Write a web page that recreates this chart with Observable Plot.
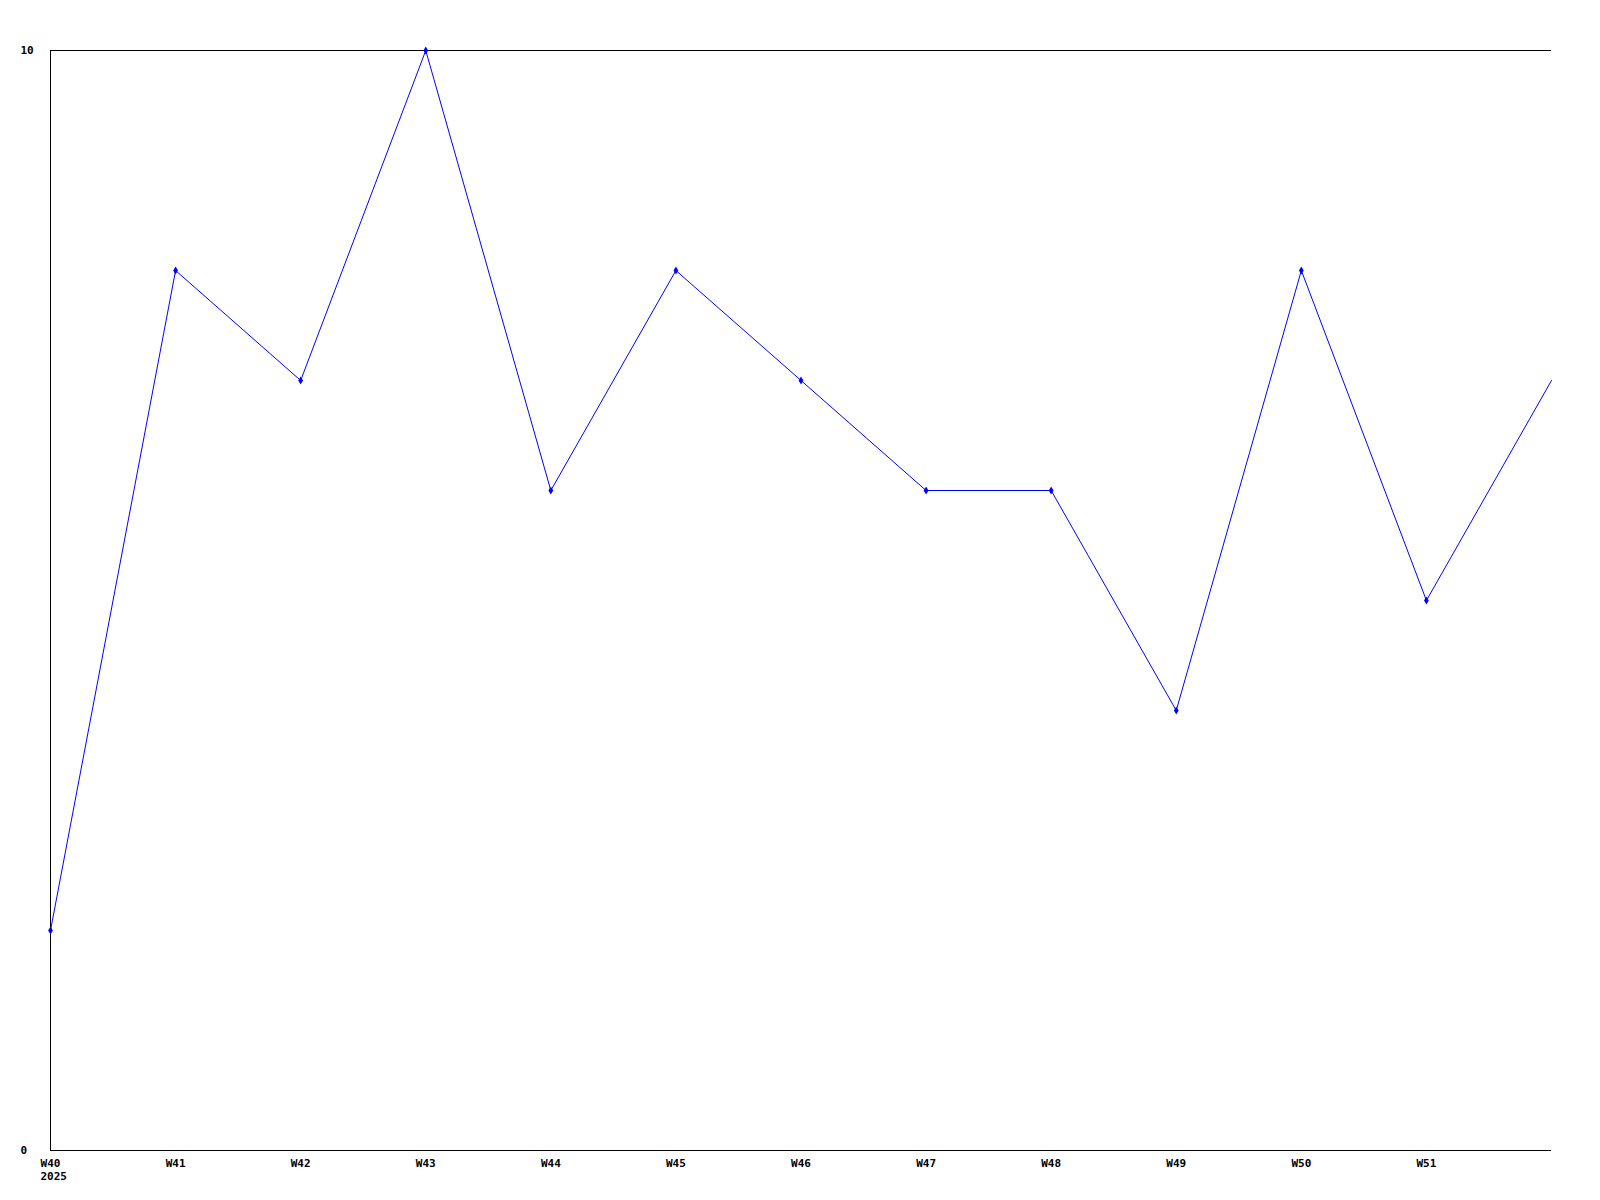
<!DOCTYPE html>
<html>
<head>
<meta charset="utf-8">
<script src="https://cdn.jsdelivr.net/npm/d3@7"></script>
<script src="https://cdn.jsdelivr.net/npm/@observablehq/plot@0.6"></script>
<style>
  html, body { margin: 0; padding: 0; background: #fff; }
  #chart svg { display: block; }
</style>
</head>
<body>
<div id="chart"></div>
<script>
const weeks = ["W40", "W41", "W42", "W43", "W44", "W45", "W46", "W47", "W48", "W49", "W50", "W51", "W52"];
const values = [2, 8, 7, 10, 6, 8, 7, 6, 6, 4, 8, 5, 7];
const tickLabels = ["W40", "W41", "W42", "W43", "W44", "W45", "W46", "W47", "W48", "W49", "W50", "W51"];
const yearLabel = "2025";
const yTicks = [0, 10];

const data = weeks.map((w, i) => ({i, week: w, value: values[i]}));
const markerData = data.slice(0, tickLabels.length);
const font = "bold 11px 'DejaVu Sans Mono', monospace";

const chart = Plot.plot({
  width: 1600,
  height: 1200,
  marginLeft: 50,
  marginRight: 49,
  marginTop: 50,
  marginBottom: 50,
  style: {font, background: "#fff", color: "#000"},
  x: {type: "linear", domain: [0, weeks.length - 1]},
  y: {domain: [0, 10]},
  marks: [
    Plot.axisX({
      ticks: d3.range(tickLabels.length),
      tickFormat: i => tickLabels[i],
      tickSize: 0,
      tickPadding: 9,
      label: null,
      fontWeight: "bold",
      fill: "#000"
    }),
    Plot.text([{i: 0, label: yearLabel}], {
      x: "i", text: "label", frameAnchor: "bottom",
      textAnchor: "start", dx: -10, dy: 29, fontWeight: "bold", fill: "#000"
    }),
    Plot.axisY({
      ticks: yTicks,
      tickSize: 0,
      tickPadding: 0,
      label: null,
      textAnchor: "start",
      dx: -30,
      fontWeight: "bold",
      fill: "#000"
    }),
    Plot.ruleY([0, 10], {stroke: "#000", strokeWidth: 1, shapeRendering: "crispEdges"}),
    Plot.ruleX([0], {stroke: "#000", strokeWidth: 1, shapeRendering: "crispEdges"}),
    Plot.line(data, {x: "i", y: "value", stroke: "#0000ff", strokeWidth: 1}),
    Plot.dot(markerData, {x: "i", y: "value", symbol: "diamond", r: 2.5, fill: "#0000ff", stroke: "none"})
  ]
});
document.getElementById("chart").appendChild(chart);
</script>
</body>
</html>
